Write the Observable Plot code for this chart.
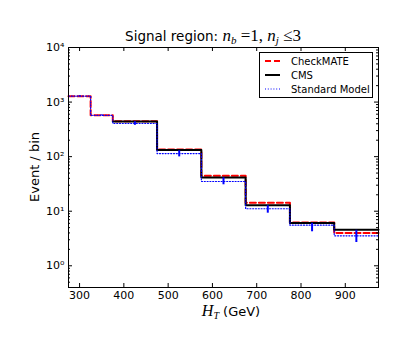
<!DOCTYPE html>
<html><head><meta charset="utf-8">
<script src="https://cdn.jsdelivr.net/npm/d3@7"></script>
<script src="https://cdn.jsdelivr.net/npm/@observablehq/plot@0.6"></script>
<style>body{margin:0;background:#fff;}</style>
</head><body><div id="chart"></div>
<script>
// HT bins (GeV)
const binLow  = [275, 325, 375, 475, 575, 675, 775, 875];
const binHigh = [325, 375, 475, 575, 675, 775, 875, 975];
const binCenter = [300, 350, 425, 525, 625, 725, 825, 925];
// Events per bin
const checkmate = [1285, 572, 445, 135, 44.6, 14.3, 6.2, 3.97];
const cms       = [null, null, 440, 132, 41.5, 12.9, 6.05, 4.56];
const sm        = [1285, 572, 405, 114, 35, 11.1, 5.56, 3.54];
const smErrLow  = [1260, 560, 375, 99, 30.5, 9.2, 4.2, 2.67];
const smErrHigh = [1310, 584, 435, 128, 40.9, 12.6, 6.0, 4.47];
// Axes
const xTicks = [300, 400, 500, 600, 700, 800, 900];
const yTicks = [1, 10, 100, 1000, 10000];
const yTickLabels = ["10⁰", "10¹", "10²", "10³", "10⁴"];
const seriesNames = ["CheckMATE", "CMS", "Standard Model"];
const seriesColors = ["#ff0000", "#000000", "#0000ff"];

const W = 407, H = 352, mT = 47, mB = 65, mL = 68, mR = 29;
const pw = W - mL - mR, ph = H - mT - mB;

function stepPoints(vals) {
  const pts = [];
  vals.forEach((v, i) => { if (v != null) pts.push({x: binLow[i], y: v}); });
  const lastI = vals.length - 1;
  pts.push({x: binHigh[lastI], y: vals[lastI]});
  return pts;
}
const yMinor = [];
for (let e = -1; e <= 3; e++) for (let m = 2; m <= 9; m++) {
  const v = m * Math.pow(10, e);
  if (v >= 0.4 && v <= 10000) yMinor.push(v);
}
const errData = binCenter.map((c, i) => ({x: c, lo: smErrLow[i], hi: smErrHigh[i]}));

const plot = Plot.plot({
  width: W, height: H,
  marginTop: mT, marginBottom: mB, marginLeft: mL, marginRight: mR,
  style: {fontFamily: "DejaVu Sans", fontSize: "11px", color: "black", background: "white"},
  x: {type: "linear", domain: [275, 975]},
  y: {type: "log", domain: [0.4, 10000]},
  marks: [
    Plot.line(stepPoints(checkmate), {x: "x", y: "y", curve: "step-after", stroke: seriesColors[0], strokeWidth: 2, strokeDasharray: "6,3"}),
    Plot.line(stepPoints(cms), {x: "x", y: "y", curve: "step-after", stroke: seriesColors[1], strokeWidth: 2}),
    Plot.line(stepPoints(sm), {x: "x", y: "y", curve: "step-after", stroke: seriesColors[2], strokeWidth: 1.2, strokeDasharray: "1,1.8"}),
    Plot.ruleX(errData, {x: "x", y1: "lo", y2: "hi", stroke: seriesColors[2], strokeWidth: 2}),
    // inward ticks
    Plot.tickX(xTicks, {x: d => d, insetTop: ph - 4, stroke: "black"}),
    Plot.tickX(xTicks, {x: d => d, insetBottom: ph - 4, stroke: "black"}),
    Plot.tickY(yTicks, {y: d => d, insetRight: pw - 4, stroke: "black"}),
    Plot.tickY(yTicks, {y: d => d, insetLeft: pw - 4, stroke: "black"}),
    Plot.tickY(yMinor, {y: d => d, insetRight: pw - 2, stroke: "black"}),
    Plot.tickY(yMinor, {y: d => d, insetLeft: pw - 2, stroke: "black"}),
    Plot.axisX({ticks: xTicks, tickSize: 0, tickPadding: 4, label: null, fontSize: 11}),
    Plot.axisY({ticks: yTicks, tickSize: 0, tickPadding: 4, label: null, fontSize: 11,
      tickFormat: d => yTickLabels[yTicks.indexOf(d)]}),
    Plot.frame({stroke: "black", strokeWidth: 1})
  ]
});
document.getElementById("chart").appendChild(plot);

const svg = d3.select(plot);
const serif = (sel) => sel.attr("font-family", "Liberation Serif");
// Title
const t = svg.append("text").attr("x", 213).attr("y", 41).attr("text-anchor", "middle")
  .attr("font-family", "DejaVu Sans").attr("font-size", "13.5px").attr("fill", "black");
t.append("tspan").text("Signal region: ");
serif(t.append("tspan")).attr("font-style", "italic").attr("font-size", "17px").text("n");
serif(t.append("tspan")).attr("font-style", "italic").attr("font-size", "11px").attr("dy", 3).text("b");
serif(t.append("tspan")).attr("font-size", "17px").attr("dy", -3).text(" =1, ");
serif(t.append("tspan")).attr("font-style", "italic").attr("font-size", "17px").text("n");
serif(t.append("tspan")).attr("font-style", "italic").attr("font-size", "11px").attr("dy", 3).text("j");
serif(t.append("tspan")).attr("font-size", "17px").attr("dy", -3).text(" ≤3");

// X label
const xl = svg.append("text").attr("x", 231).attr("y", 316).attr("text-anchor", "middle")
  .attr("font-family", "DejaVu Sans").attr("font-size", "13px").attr("fill", "black");
serif(xl.append("tspan")).attr("font-style", "italic").attr("font-size", "16px").text("H");
serif(xl.append("tspan")).attr("font-style", "italic").attr("font-size", "10px").attr("dy", 3).text("T");
xl.append("tspan").attr("dy", -3).text(" (GeV)");

// Y label
svg.append("text").attr("transform", `translate(39,${mT + ph / 2}) rotate(-90)`)
  .attr("text-anchor", "middle").attr("font-family", "DejaVu Sans").attr("font-size", "13px")
  .attr("fill", "black").text("Event / bin");

// Legend
const lg = svg.append("g");
lg.append("rect").attr("x", 259.5).attr("y", 52.5).attr("width", 113).attr("height", 45)
  .attr("fill", "white").attr("stroke", "black").attr("stroke-width", 1);
const dashes = ["6,3", null, "1,1.8"], widths = [2, 2, 1.2];
seriesNames.forEach((name, i) => {
  const y = 61 + i * 14;
  lg.append("line").attr("x1", 265).attr("x2", 280).attr("y1", y).attr("y2", y)
    .attr("stroke", seriesColors[i]).attr("stroke-width", widths[i])
    .attr("stroke-dasharray", dashes[i]);
  lg.append("text").attr("x", 291).attr("y", y + 3.5).attr("text-anchor", "start")
    .attr("font-family", "DejaVu Sans").attr("font-size", "10px").attr("fill", "black").text(name);
});
</script>
</body></html>
